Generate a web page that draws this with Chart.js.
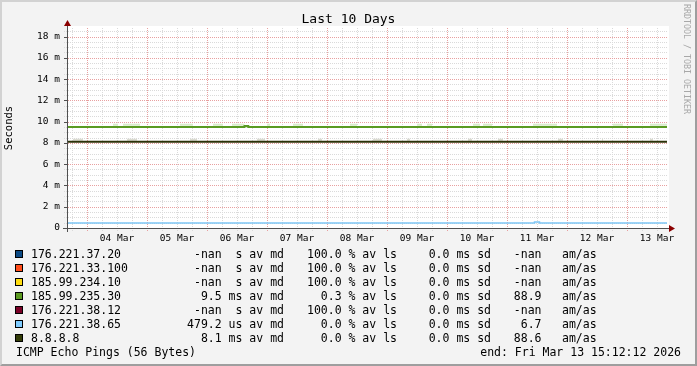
<!DOCTYPE html>
<html>
<head>
<meta charset="utf-8">
<script src="https://cdn.jsdelivr.net/npm/chart.js@4.4.1/dist/chart.umd.min.js"></script>
<style>
    body { margin: 0; background: #f3f3f3; }
    #quadro { position: relative; width: 697px; height: 366px; background: #f3f3f3; overflow: hidden; font-family: 'DejaVu Sans Mono', monospace; color: #000; }
    #graficoPing { position: absolute; left: 0; top: 0; }
    #moldura { position: absolute; left: 0; top: 0; width: 697px; height: 366px; box-sizing: border-box;
        border-top: 2px solid #d2d2d2; border-left: 2px solid #d2d2d2; border-right: 2px solid #9e9e9e; border-bottom: 2px solid #9e9e9e; pointer-events: none; }
    #titulo { position: absolute; left: 0; width: 697px; top: 10px; text-align: center; font-size: 13px; line-height: 18px; }
    #marca { position: absolute; left: 682px; top: 4px; writing-mode: vertical-rl; font-size: 8.3px; line-height: 10px; color: #a8a8a8; white-space: nowrap; }
    .linha { position: absolute; left: 0; width: 697px; height: 14px; font-size: 11.5px; line-height: 14px; white-space: pre; }
    .caixa { position: absolute; left: 15px; top: 3px; width: 6px; height: 6px; border: 1px solid #000; }
    .esq { position: absolute; top: 0; }
    .dir { position: absolute; top: 0; text-align: right; }
</style>
</head>
<body>
<div id="quadro">
    <canvas id="graficoPing" width="697" height="366"></canvas>
    <div id="titulo">Last 10 Days</div>
    <div id="marca">RRDTOOL / TOBI OETIKER</div>
    <div id="legenda"></div>
    <div id="moldura"></div>
</div>
<script>
// dados do grafico (horas contadas a partir de 04 Mar 00:00)
const horaInicio = -8;
const horaFim = 232;
const dias = ['04 Mar', '05 Mar', '06 Mar', '07 Mar', '08 Mar', '09 Mar', '10 Mar', '11 Mar', '12 Mar', '13 Mar'];
const rotulosY = ['0', '2 m', '4 m', '6 m', '8 m', '10 m', '12 m', '14 m', '16 m', '18 m'];

// linhas de mediana (em ms)
const tempoVerde = [-8, 63, 64.5, 232];
const medianaVerde = [9.5, 9.58, 9.5, 9.5];
const tempoOliva = [-8, 232];
const medianaOliva = [8.1, 8.1];
const tempoAzul = [-8, 179, 181, 232];
const medianaAzul = [0.479, 0.57, 0.479, 0.479];

// "fumaca" (trechos claros acima das medianas)
const fumacaVerdeIni = [10.4, 14.4, 37.2, 50.4, 58, 72, 82.4, 105.2, 132, 136, 154.4, 158.4, 178.4, 210.4, 225.2];
const fumacaVerdeFim = [12.4, 21.2, 42.4, 54.4, 63, 73.2, 86.4, 108, 134, 138, 157.2, 162, 188, 214.4, 232];
const fumacaVerdeVal = [9.7, 9.7, 9.7, 9.7, 9.7, 9.7, 9.7, 9.7, 9.7, 9.7, 9.7, 9.7, 9.7, 9.7, 9.7];
const fumacaOlivaIni = [-5.6, 16, 41.2, 68, 92.4, 114.4, 128, 152.4, 164.4, 188.4, 206, 225.2];
const fumacaOlivaFim = [-1.6, 20, 44, 71.2, 94, 118, 129.2, 154, 166.4, 190.4, 206.4, 226.4];
const fumacaOlivaVal = [8.3, 8.3, 8.3, 8.3, 8.3, 8.3, 8.3, 8.3, 8.3, 8.3, 8.3, 8.3];

// legenda
const hosts = ['176.221.37.20', '176.221.33.100', '185.99.234.10', '185.99.235.30', '176.221.38.12', '176.221.38.65', '8.8.8.8'];
const coresHosts = ['#0c4a84', '#ff4d1a', '#ffdd11', '#5c9a22', '#7a0026', '#80ccff', '#333d08'];
const medianas = [NaN, NaN, NaN, 9.5, NaN, 0.4792, 8.1];
const perdas = [100, 100, 100, 0.3, 100, 0, 0];
const desvios = [0, 0, 0, 0, 0, 0, 0];
const amas = [NaN, NaN, NaN, 88.9, NaN, 6.7, 88.6];

function formatarMediana(v) {
    if (isNaN(v)) return '-nan  s av md';
    if (v < 1) return (v * 1000).toFixed(1) + ' us av md';
    return v.toFixed(1) + ' ms av md';
}

// monta a legenda em texto
let html = '';
hosts.forEach(function(h, i) {
    const topo = 247 + 14 * i;
    html += '<div class="linha" style="top:' + topo + 'px">' +
        '<div class="caixa" style="background:' + coresHosts[i] + '"></div>' +
        '<span class="esq" style="left:31px">' + h + '</span>' +
        '<span class="dir" style="right:' + (697 - 284) + 'px">' + formatarMediana(medianas[i]) + '</span>' +
        '<span class="dir" style="right:' + (697 - 397) + 'px">' + perdas[i].toFixed(1) + ' % av ls</span>' +
        '<span class="dir" style="right:' + (697 - 491) + 'px">' + desvios[i].toFixed(1) + ' ms sd</span>' +
        '<span class="dir" style="right:' + (697 - 541.5) + 'px">' + (isNaN(amas[i]) ? '-nan' : amas[i].toFixed(1)) + '</span>' +
        '<span class="esq" style="left:562px">am/as</span>' +
        '</div>';
});
html += '<div class="linha" style="top:345px">' +
    '<span class="esq" style="left:16px">ICMP Echo Pings (56 Bytes)</span>' +
    '<span class="dir" style="right:' + (697 - 681) + 'px">end: Fri Mar 13 15:12:12 2026</span>' +
    '</div>';
document.getElementById('legenda').innerHTML = html;

const pontos = (t, v) => t.map((x, i) => ({ x: x, y: v[i] }));

// trechos separados por um ponto nulo
function trechos(ini, fim, val) {
    const out = [];
    ini.forEach(function(x, i) {
        out.push({ x: x, y: val[i] }, { x: fim[i], y: val[i] }, { x: fim[i] + 0.01, y: null });
    });
    return out;
}

const ticksX = [];
for (let h = -6; h <= 228; h += 6) ticksX.push({ value: h });
const ticksY = [];
for (let v = 0; v <= 18.5; v += 0.5) ticksY.push({ value: v });

const ehMeiaNoite = v => ((v % 24) + 24) % 24 === 0;
const ehMaiorY = v => Math.abs(v - 2 * Math.round(v / 2)) < 1e-9;

const corMaior = '#e8a0a0';
const corMenor = '#dadada';

// fundo branco, grade pontilhada e eixos com setas (estilo rrdtool)
const fundoEixos = {
    id: 'fundoEixos',
    beforeDraw(chart) {
        const { ctx, chartArea: a } = chart;
        ctx.save();
        ctx.fillStyle = '#ffffff';
        ctx.fillRect(a.left, a.top - 2, a.right - a.left + 2, a.bottom - a.top + 2);
        ctx.restore();
    },
    beforeDatasetsDraw(chart) {
        const { ctx, chartArea: a, scales } = chart;
        ctx.save();
        ctx.lineWidth = 1;
        ctx.setLineDash([1, 1]);
        // menores primeiro, maiores por cima
        [false, true].forEach(function(maior) {
            ctx.strokeStyle = maior ? corMaior : corMenor;
            ticksX.forEach(function(t) {
                if (ehMeiaNoite(t.value) !== maior) return;
                const x = Math.round(scales.x.getPixelForValue(t.value)) + 0.5;
                ctx.beginPath();
                ctx.moveTo(x, a.top);
                ctx.lineTo(x, a.bottom + 3);
                ctx.stroke();
            });
            ticksY.forEach(function(t) {
                if (t.value === 0 || ehMaiorY(t.value) !== maior) return;
                const y = Math.round(scales.y.getPixelForValue(t.value)) + 0.5;
                ctx.beginPath();
                ctx.moveTo(a.left - 3, y);
                ctx.lineTo(a.right, y);
                ctx.stroke();
            });
        });
        ctx.restore();
    },
    afterDraw(chart) {
        const { ctx, chartArea: a, scales } = chart;
        const x0 = Math.round(a.left) + 0.5;
        const y0 = Math.round(a.bottom) + 0.5;
        ctx.save();
        ctx.strokeStyle = '#505050';
        ctx.lineWidth = 1;
        ctx.beginPath();
        ctx.moveTo(a.left - 4, y0);
        ctx.lineTo(a.right + 4, y0);
        ctx.moveTo(x0, a.bottom + 4);
        ctx.lineTo(x0, a.top - 3);
        // marcas dos rotulos do eixo y
        ticksY.forEach(function(t) {
            if (!ehMaiorY(t.value)) return;
            const y = Math.round(scales.y.getPixelForValue(t.value)) + 0.5;
            ctx.moveTo(a.left - 3, y);
            ctx.lineTo(a.left, y);
        });
        ctx.stroke();
        ctx.fillStyle = '#8b0000';
        ctx.beginPath();
        ctx.moveTo(a.right + 8, y0);
        ctx.lineTo(a.right + 2, y0 - 3.5);
        ctx.lineTo(a.right + 2, y0 + 3.5);
        ctx.closePath();
        ctx.fill();
        ctx.beginPath();
        ctx.moveTo(x0, a.top - 8);
        ctx.lineTo(x0 - 3.5, a.top - 2);
        ctx.lineTo(x0 + 3.5, a.top - 2);
        ctx.closePath();
        ctx.fill();
        ctx.restore();
    }
};

// a grade da biblioteca fica invisivel, so reserva o espaco das marcas
const gradeInvisivel = { display: true, drawOnChartArea: false, drawTicks: true, tickLength: 3, color: 'rgba(0,0,0,0)', tickColor: 'rgba(0,0,0,0)' };

const ctx = document.getElementById('graficoPing').getContext('2d');
new Chart(ctx, {
    type: 'line',
    data: {
        datasets: [
            { label: '185.99.235.30', data: pontos(tempoVerde, medianaVerde), borderColor: '#5a9a22', borderWidth: 2, stepped: true },
            { label: '8.8.8.8', data: pontos(tempoOliva, medianaOliva), borderColor: '#2c3208', borderWidth: 2, stepped: true },
            { label: '176.221.38.65', data: pontos(tempoAzul, medianaAzul), borderColor: '#7ec6f5', borderWidth: 1.5, stepped: true },
            { label: 'fumaca verde', data: trechos(fumacaVerdeIni, fumacaVerdeFim, fumacaVerdeVal), borderColor: '#d9ebcb', borderWidth: 2, spanGaps: false },
            { label: 'fumaca oliva', data: trechos(fumacaOlivaIni, fumacaOlivaFim, fumacaOlivaVal), borderColor: '#dcdcd2', borderWidth: 2, spanGaps: false }
        ]
    },
    options: {
        responsive: false,
        animation: false,
        devicePixelRatio: 1,
        elements: { point: { radius: 0 } },
        layout: { padding: { left: 0, top: 28, right: 30, bottom: 118 } },
        plugins: { legend: { display: false }, tooltip: { enabled: false } },
        scales: {
            x: {
                type: 'linear',
                min: horaInicio,
                max: horaFim,
                afterBuildTicks: function(axis) { axis.ticks = ticksX.slice(); },
                afterFit: function(s) { s.height = 20; },
                ticks: {
                    autoSkip: false,
                    maxRotation: 0,
                    padding: 2,
                    color: '#000',
                    font: { family: 'DejaVu Sans Mono', size: 9.5 },
                    callback: function(v) { return (v % 24 === 12) ? dias[(v - 12) / 24] : ''; }
                },
                grid: gradeInvisivel,
                border: { display: false }
            },
            y: {
                min: 0,
                max: 18.8,
                afterBuildTicks: function(axis) { axis.ticks = ticksY.slice(); },
                afterFit: function(s) { s.width = 67; },
                title: { display: true, text: 'Seconds', color: '#000', font: { family: 'DejaVu Sans Mono', size: 10.5 }, padding: { top: 3, bottom: 0 } },
                ticks: {
                    autoSkip: false,
                    padding: 4,
                    color: '#000',
                    font: { family: 'DejaVu Sans Mono', size: 9.5 },
                    callback: function(v) { return ehMaiorY(v) ? rotulosY[Math.round(v / 2)] : ''; }
                },
                grid: gradeInvisivel,
                border: { display: false }
            }
        }
    },
    plugins: [fundoEixos]
});
</script>
</body>
</html>
